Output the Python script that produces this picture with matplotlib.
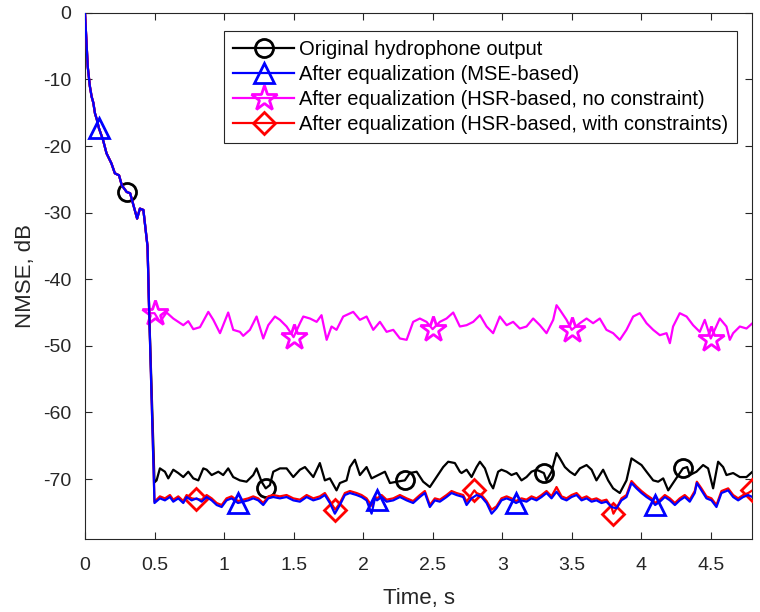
import numpy as np
import matplotlib
matplotlib.use("Agg")
import matplotlib.pyplot as plt

plt.rcParams["font.family"] = ["Liberation Sans", "DejaVu Sans"]
plt.rcParams["axes.unicode_minus"] = False

# shared start-up transient (all four curves coincide here)
t_start = [0.0, 0.01, 0.02, 0.035, 0.048, 0.06, 0.072, 0.085, 0.10, 0.13, 0.155,
           0.19, 0.215, 0.245, 0.265, 0.30, 0.325, 0.345, 0.375, 0.395, 0.42,
           0.45, 0.462]
y_start = [0.0, -4.0, -8.1, -11.0, -12.6, -13.5, -15.1, -16.0, -17.3, -19.1, -21.1,
           -22.6, -24.1, -24.4, -25.9, -26.9, -27.1, -28.6, -30.9, -29.4, -29.6,
           -35.1, -45.1]

# original hydrophone output
t_orig = [0.50, 0.515, 0.539, 0.575, 0.599, 0.635, 0.671, 0.707, 0.743, 0.779, 0.815,
          0.851, 0.875, 0.911, 0.959, 0.994, 1.030, 1.066, 1.114, 1.162, 1.210,
          1.234, 1.270, 1.30, 1.330, 1.354, 1.402, 1.450, 1.498, 1.546, 1.582,
          1.642, 1.689, 1.725, 1.761, 1.809, 1.833, 1.881, 1.905, 1.941, 1.977,
          2.025, 2.061, 2.109, 2.157, 2.193, 2.241, 2.30, 2.336, 2.385, 2.432,
          2.480, 2.528, 2.576, 2.612, 2.660, 2.696, 2.708, 2.744, 2.780, 2.816,
          2.840, 2.876, 2.912, 2.935, 2.971, 2.995, 3.032, 3.067, 3.103, 3.139,
          3.175, 3.211, 3.247, 3.30, 3.319, 3.355, 3.391, 3.415, 3.451, 3.487,
          3.523, 3.559, 3.607, 3.643, 3.678, 3.726, 3.762, 3.798, 3.846, 3.894,
          3.930, 3.966, 4.002, 4.038, 4.086, 4.122, 4.158, 4.194, 4.229, 4.30,
          4.33, 4.349, 4.397, 4.445, 4.481, 4.517, 4.553, 4.589, 4.613, 4.661,
          4.709, 4.757, 4.80]
y_orig = [-70.5, -70.2, -68.4, -68.9, -69.9, -68.6, -69.1, -69.7, -68.9, -69.9, -70.2,
          -68.4, -68.6, -69.4, -68.9, -69.4, -68.4, -69.7, -70.2, -70.4, -69.4,
          -68.4, -70.4, -71.4, -70.9, -68.9, -68.4, -68.4, -69.7, -68.6, -68.2,
          -69.7, -67.6, -70.2, -69.9, -71.7, -70.6, -70.2, -68.2, -67.1, -69.4,
          -68.2, -69.9, -69.4, -68.9, -70.6, -70.4, -70.2, -69.1, -68.9, -70.4,
          -71.2, -69.7, -68.2, -67.4, -67.6, -68.9, -69.1, -68.6, -69.7, -68.2,
          -67.4, -68.4, -70.6, -71.4, -68.9, -68.6, -68.9, -69.4, -69.1, -70.2,
          -69.7, -68.9, -68.6, -69.1, -70.2, -68.9, -66.1, -66.9, -68.2, -68.9,
          -69.4, -68.4, -67.9, -68.6, -70.2, -68.6, -70.2, -71.4, -72.1, -70.2,
          -66.9, -67.4, -67.9, -68.9, -70.2, -70.4, -69.9, -71.7, -70.6, -68.4,
          -68.2, -69.4, -68.9, -67.9, -68.4, -71.4, -67.4, -68.2, -69.4, -69.1,
          -69.7, -69.7, -68.9]

# after equalization, MSE-based
t_mse = [0.50, 0.539, 0.575, 0.611, 0.635, 0.671, 0.707, 0.731, 0.767, 0.803, 0.839,
         0.875, 0.911, 0.947, 0.983, 1.018, 1.054, 1.10, 1.138, 1.174, 1.210,
         1.246, 1.282, 1.318, 1.354, 1.402, 1.450, 1.498, 1.546, 1.594, 1.642,
         1.689, 1.725, 1.761, 1.797, 1.833, 1.869, 1.905, 1.953, 1.989, 2.025,
         2.061, 2.085, 2.10, 2.133, 2.169, 2.217, 2.265, 2.313, 2.360, 2.408,
         2.444, 2.480, 2.516, 2.552, 2.600, 2.636, 2.672, 2.72, 2.744, 2.780,
         2.816, 2.852, 2.888, 2.924, 2.959, 2.995, 3.032, 3.067, 3.10, 3.139,
         3.175, 3.211, 3.247, 3.283, 3.319, 3.355, 3.391, 3.427, 3.463, 3.499,
         3.535, 3.571, 3.607, 3.643, 3.678, 3.714, 3.750, 3.786, 3.822, 3.858,
         3.894, 3.930, 3.966, 4.002, 4.038, 4.074, 4.10, 4.134, 4.170, 4.206,
         4.242, 4.277, 4.313, 4.349, 4.385, 4.40, 4.433, 4.469, 4.505, 4.541,
         4.577, 4.625, 4.661, 4.697, 4.733, 4.769, 4.80]
y_mse = [-73.6, -72.9, -73.2, -72.7, -73.4, -72.9, -73.6, -72.7, -73.2, -72.9, -73.4,
         -72.7, -73.2, -73.9, -74.2, -73.2, -72.9, -73.6, -73.4, -73.2, -72.9,
         -73.2, -73.9, -72.9, -72.7, -72.9, -72.7, -73.2, -73.4, -72.7, -73.2,
         -72.9, -72.4, -73.6, -75.2, -73.9, -72.4, -72.1, -72.4, -72.7, -73.2,
         -75.2, -72.9, -73.2, -72.7, -73.4, -73.2, -72.7, -73.2, -73.6, -72.7,
         -72.1, -74.2, -73.2, -73.4, -72.7, -72.1, -72.4, -72.7, -73.9, -72.9,
         -72.4, -72.7, -73.6, -75.2, -74.4, -73.2, -72.9, -73.2, -73.6, -73.2,
         -73.4, -72.9, -73.2, -72.7, -72.1, -72.9, -71.9, -72.9, -73.2, -72.7,
         -72.4, -73.2, -72.9, -73.4, -73.2, -73.6, -73.4, -74.2, -74.4, -73.2,
         -72.7, -70.6, -71.4, -72.1, -72.7, -73.2, -73.9, -73.4, -72.7, -73.2,
         -73.9, -73.2, -72.7, -73.4, -72.1, -70.6, -71.7, -72.9, -73.2, -74.2,
         -72.1, -71.7, -72.7, -73.2, -72.7, -72.4, -72.7]

# after equalization, HSR-based, no constraint
t_hsr = [0.47, 0.50, 0.539, 0.587, 0.635, 0.671, 0.707, 0.743, 0.779, 0.827, 0.887,
         0.923, 0.971, 1.030, 1.066, 1.114, 1.138, 1.186, 1.234, 1.282, 1.318,
         1.366, 1.402, 1.450, 1.50, 1.546, 1.570, 1.618, 1.666, 1.701, 1.738,
         1.773, 1.809, 1.857, 1.929, 1.977, 2.025, 2.073, 2.121, 2.169, 2.217,
         2.265, 2.313, 2.360, 2.408, 2.456, 2.50, 2.552, 2.600, 2.648, 2.696,
         2.744, 2.792, 2.840, 2.888, 2.935, 2.983, 3.032, 3.079, 3.127, 3.175,
         3.223, 3.271, 3.319, 3.367, 3.391, 3.415, 3.463, 3.50, 3.559, 3.607,
         3.654, 3.702, 3.750, 3.798, 3.846, 3.894, 3.942, 3.990, 4.038, 4.086,
         4.134, 4.182, 4.206, 4.229, 4.277, 4.326, 4.373, 4.421, 4.457, 4.50,
         4.565, 4.613, 4.637, 4.661, 4.709, 4.757, 4.80]
y_hsr = [-45.1, -45.1, -46.4, -45.0, -45.9, -46.4, -46.9, -46.3, -47.5, -47.2, -44.9,
         -46.1, -48.1, -45.0, -47.6, -47.9, -48.5, -47.6, -45.6, -48.9, -46.9,
         -45.6, -46.1, -47.1, -48.7, -46.6, -45.6, -45.9, -46.4, -45.4, -49.1,
         -47.1, -47.6, -45.6, -44.9, -46.1, -45.6, -47.6, -46.4, -47.9, -47.6,
         -48.9, -49.1, -46.4, -45.9, -46.4, -47.5, -46.4, -45.9, -45.0, -47.1,
         -46.9, -46.4, -45.4, -47.1, -48.1, -45.6, -46.9, -46.4, -47.4, -47.1,
         -45.9, -46.9, -48.1, -46.1, -43.9, -44.6, -46.1, -47.6, -46.6, -45.9,
         -46.6, -45.9, -47.6, -48.1, -49.1, -47.6, -45.6, -45.1, -46.6, -47.6,
         -48.4, -48.1, -49.6, -47.1, -45.1, -45.6, -46.9, -47.9, -46.1, -48.9,
         -45.9, -47.1, -49.1, -48.1, -47.1, -47.4, -46.6]

# after equalization, HSR-based, with constraints
t_hsrc = [0.50, 0.539, 0.575, 0.611, 0.635, 0.671, 0.707, 0.731, 0.767, 0.80, 0.839,
          0.875, 0.911, 0.947, 0.983, 1.018, 1.054, 1.10, 1.138, 1.174, 1.210,
          1.246, 1.282, 1.318, 1.354, 1.402, 1.450, 1.498, 1.546, 1.594, 1.642,
          1.689, 1.725, 1.761, 1.80, 1.833, 1.869, 1.905, 1.953, 1.989, 2.025,
          2.061, 2.085, 2.10, 2.133, 2.169, 2.217, 2.265, 2.313, 2.360, 2.408,
          2.444, 2.480, 2.516, 2.552, 2.600, 2.636, 2.672, 2.72, 2.744, 2.80,
          2.816, 2.852, 2.888, 2.924, 2.959, 2.995, 3.032, 3.067, 3.10, 3.139,
          3.175, 3.211, 3.247, 3.283, 3.319, 3.355, 3.391, 3.427, 3.463, 3.499,
          3.535, 3.571, 3.607, 3.643, 3.678, 3.714, 3.750, 3.786, 3.80, 3.822,
          3.858, 3.894, 3.930, 3.966, 4.002, 4.038, 4.074, 4.10, 4.134, 4.170,
          4.206, 4.242, 4.277, 4.313, 4.349, 4.385, 4.40, 4.433, 4.469, 4.505,
          4.541, 4.577, 4.625, 4.661, 4.697, 4.733, 4.769, 4.80]
y_hsrc = [-73.4, -72.6, -72.9, -72.4, -73.1, -72.6, -73.3, -72.4, -72.9, -73.0, -73.1,
          -72.4, -72.9, -73.6, -73.9, -72.9, -72.6, -73.3, -73.1, -72.9, -72.6,
          -72.9, -73.6, -72.6, -72.4, -72.6, -72.4, -72.9, -73.1, -72.4, -72.9,
          -72.6, -72.1, -73.3, -74.6, -73.6, -72.1, -71.8, -72.1, -72.4, -72.9,
          -74.0, -72.6, -72.9, -72.4, -73.1, -72.9, -72.4, -72.9, -73.3, -72.4,
          -71.8, -73.9, -72.9, -73.1, -72.4, -71.8, -72.1, -72.4, -73.4, -71.7,
          -72.1, -72.4, -73.3, -74.6, -74.1, -72.9, -72.6, -72.9, -73.3, -72.9,
          -73.1, -72.6, -72.9, -72.4, -71.8, -72.6, -71.2, -72.6, -72.9, -72.4,
          -72.1, -72.9, -72.6, -73.1, -72.9, -73.3, -73.1, -74.2, -75.2, -74.4,
          -72.9, -72.4, -70.3, -71.1, -71.8, -72.4, -72.9, -73.6, -73.1, -72.4,
          -72.9, -73.6, -72.9, -72.4, -73.1, -71.8, -70.4, -71.4, -72.6, -72.9,
          -73.9, -71.8, -71.4, -72.4, -72.9, -72.4, -72.1, -71.7]

mark_orig = [0.3, 1.3, 2.3, 3.3, 4.3]
mark_mse = [0.1, 1.1, 2.1, 3.1, 4.1]
mark_hsr = [0.5, 1.5, 2.5, 3.5, 4.5]
mark_hsrc = [0.8, 1.8, 2.8, 3.8, 4.8]

labels = ["Original hydrophone output",
          "After equalization (MSE-based)",
          "After equalization (HSR-based, no constraint)",
          "After equalization (HSR-based, with constraints)"]


def full(t_tail, y_tail):
    return np.array(t_start + t_tail), np.array(y_start + y_tail)


def mark_idx(t, marks):
    return [int(np.argmin(np.abs(t - m))) for m in marks]


fig = plt.figure(figsize=(7.6, 6.12), dpi=100)
ax = fig.add_axes([0.1118, 0.1193, 0.8783, 0.8598])

series = [
    (t_orig, y_orig, mark_orig, "black", "o", 13, 2),
    (t_mse, y_mse, mark_mse, "blue", "^", 15, 4),
    (t_hsr, y_hsr, mark_hsr, "magenta", "*", 19, 2),
    (t_hsrc, y_hsrc, mark_hsrc, "red", "D", 11, 3),
]
for (tt, yy, mk, col, sym, ms, z), lab in zip(series, labels):
    t, y = full(tt, yy)
    ax.plot(t, y, color=col, lw=1.6, marker=sym, ms=ms, mfc="none", mec=col,
            mew=2.0, markevery=mark_idx(t, mk), label=lab, zorder=z)

ax.set_xlim(0, 4.8)
ax.set_ylim(-79, 0)
ax.set_xticks(np.arange(0, 4.6, 0.5))
ax.set_xticklabels(["0", "0.5", "1", "1.5", "2", "2.5", "3", "3.5", "4", "4.5"])
ax.set_yticks(np.arange(-70, 1, 10))
ax.tick_params(direction="in", top=True, right=True, length=5, width=0.8,
               colors="#262626", labelsize=14)
ax.tick_params(axis="x", pad=13)
ax.tick_params(axis="y", pad=10)
for s in ax.spines.values():
    s.set_color("#262626")
    s.set_linewidth(0.8)
ax.set_xlabel("Time, s", fontsize=16, color="#262626", labelpad=10)
ax.set_ylabel("NMSE, dB", fontsize=16, color="#262626", labelpad=5)

leg = ax.legend(loc="upper right", bbox_to_anchor=(737 / 760, (612 - 31) / 612),
                bbox_transform=fig.transFigure, fontsize=14.5, fancybox=False,
                framealpha=1, edgecolor="#262626", handlelength=3.0,
                labelspacing=0.3, borderpad=0.45, handletextpad=0.25,
                borderaxespad=0)
leg.get_frame().set_linewidth(0.8)

fig.savefig("out.png", dpi=100)
